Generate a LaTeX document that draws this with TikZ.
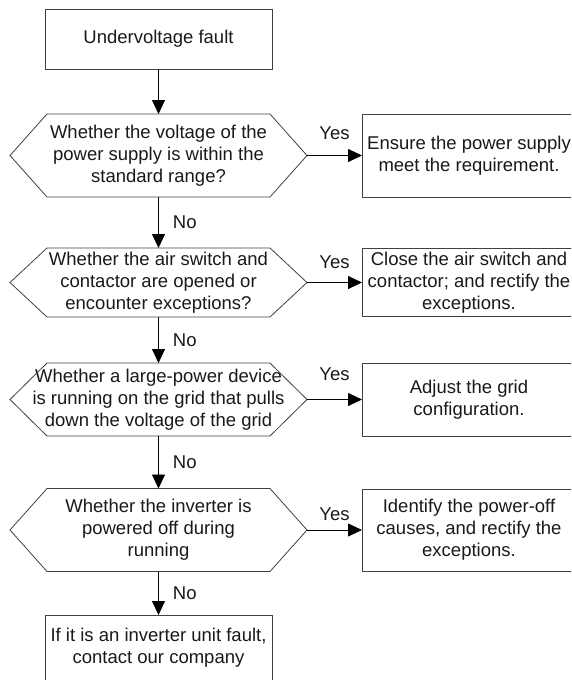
\documentclass[tikz,border=0pt]{standalone}
\usepackage{fontspec}
\setmainfont{Liberation Sans}
\usetikzlibrary{arrows.meta,positioning,calc}

\begin{document}
\begin{tikzpicture}[
  >={Triangle[length=14pt,width=13pt]},
  x=1pt,y=-1pt,
  font=\fontsize{18.5}{22}\selectfont,
  box/.style={draw=black!75, line width=0.8pt, align=center, inner sep=0pt,
    outer sep=0pt, text=black!90},
  stepbox/.style={box, minimum width=227pt, minimum height=#1},
  fixbox/.style={box, minimum width=214pt, minimum height=#1},
  query/.style={align=center, inner sep=0pt, outer sep=0pt, text=black!90,
    minimum width=297pt, minimum height=#1},
  hexline/.style={draw=black!75, line width=0.8pt},
  arrow/.style={->, line width=0.8pt},
  yes/.style={inner sep=0pt, above=#1, text=black!90},
  no/.style={inner sep=0pt, right=14pt, midway, text=black!90}
]
\useasboundingbox (0,0) rectangle (571,680);
\clip (0,0) rectangle (571,680);

% Left column: fault, checks and final step
\node[stepbox=60pt] (start) at (158.5,39) {Undervoltage fault};
\node[query=83pt] (q1) at (158.5,155.5) {Whether the voltage of the\\power supply is within the\\standard range?};
\node[query=69pt] (q2) at (158.5,282.5) {Whether the air switch and\\contactor are opened or\\encounter exceptions?};
\node[query=73pt] (q3) at (158.5,399.5) {Whether a large-power device\\is running on the grid that pulls\\down the voltage of the grid};
\node[query=83pt] (q4) at (158.5,530) {Whether the inverter is\\powered off during\\running};
\node[stepbox=66pt] (stop) at (158.5,648) {If it is an inverter unit fault,\\contact our company};

% Right column: remedies
\node[fixbox=83pt] (r1) at (469,155.5) {Ensure the power supply\\meet the requirement.};
\node[fixbox=68pt] (r2) at (469,282.5) {Close the air switch and\\contactor; and rectify the\\exceptions.};
\node[fixbox=73pt] (r3) at (469,399.5) {Adjust the grid\\configuration.};
\node[fixbox=82pt] (r4) at (469,530) {Identify the power-off\\causes, and rectify the\\exceptions.};

% Hexagon outlines round the checks
\foreach \q in {q1,q2,q3,q4}
  \draw[hexline] (\q.west) -- ([xshift=37pt]\q.north west) -- ([xshift=-37pt]\q.north east)
    -- (\q.east) -- ([xshift=-37pt]\q.south east) -- ([xshift=37pt]\q.south west) -- cycle;

% Main path
\draw[arrow] (start) -- (q1);
\draw[arrow] (q1) -- node[no] {No} (q2);
\draw[arrow] (q2) -- node[no] {No} (q3);
\draw[arrow] (q3) -- node[no] {No} (q4);
\draw[arrow] (q4) -- node[no] {No} (stop);

% Yes branches
\draw[arrow] (q1) -- node[yes=15pt] {Yes} (r1);
\draw[arrow] (q2) -- node[yes=13pt] {Yes} (r2);
\draw[arrow] (q3) -- node[yes=18pt] {Yes} (r3);
\draw[arrow] (q4) -- node[yes=9pt] {Yes} (r4);

\end{tikzpicture}
\end{document}
